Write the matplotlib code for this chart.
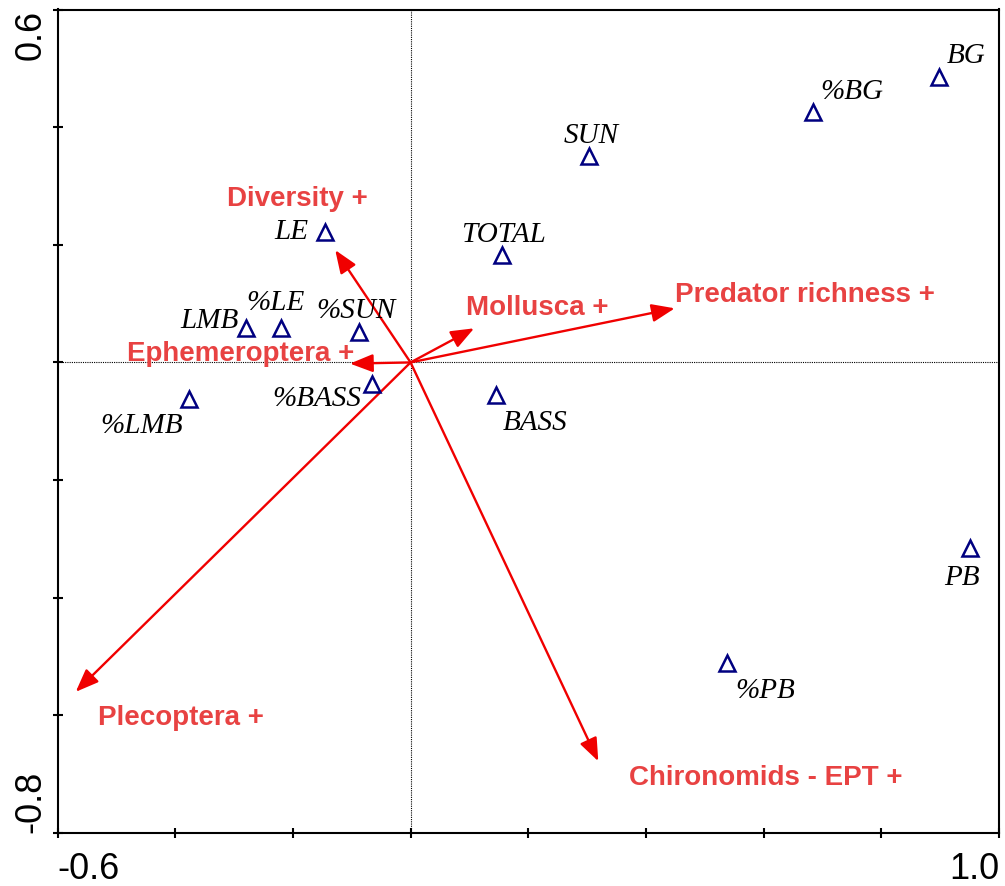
import matplotlib.pyplot as plt
import numpy as np

# species scores (blue triangles)
species = ['BG', '%BG', 'SUN', 'TOTAL', 'BASS', 'LE', 'LMB', '%LE',
           '%SUN', '%BASS', '%LMB', 'PB', '%PB']
species_x = [0.898, 0.684, 0.303, 0.155, 0.145, -0.145, -0.280, -0.220,
             -0.088, -0.066, -0.377, 0.951, 0.538]
species_y = [0.486, 0.426, 0.351, 0.183, -0.055, 0.222, 0.058, 0.058,
             0.052, -0.037, -0.062, -0.316, -0.511]

# environmental variables (red arrows)
variables = ['Diversity +', 'Ephemeroptera +', 'Mollusca +',
             'Predator richness +', 'Plecoptera +', 'Chironomids - EPT +']
var_x = [-0.128, -0.103, 0.108, 0.449, -0.569, 0.319]
var_y = [0.191, -0.002, 0.058, 0.092, -0.560, -0.678]

x_ticks = np.arange(-0.6, 1.01, 0.2)
x_ticklabels = ['-0.6', '', '', '', '', '', '', '', '1.0']
y_ticks = np.arange(-0.8, 0.61, 0.2)
y_ticklabels = ['-0.8', '', '', '', '', '', '', '0.6']

# label offsets in pixels (dx, dy) relative to the marker / arrow tip
species_offsets = [(27, 14), (39, 13), (2, 13), (1.5, 13), (39.5, -35),
                   (-33.5, -7), (-36, 0), (-5.5, 18), (-2.5, 14),
                   (-54.5, -22), (-47, -34), (-8, -37), (38, -35)]
var_offsets = [(-38, 44), (-109, 3), (63.5, 13), (130, 6), (105.5, -33),
               (167.5, -24)]

PX = 72 / 100  # pixels -> points

fig = plt.figure(figsize=(10.05, 8.86), dpi=100)
ax = fig.add_axes([57.5 / 1005, 53 / 886, (999 - 57.5) / 1005, (833 - 9.5) / 886])
ax.set_xlim(-0.6, 1.0)
ax.set_ylim(-0.8, 0.6)

ax.axhline(0, color='black', lw=0.8, ls=(0, (1, 1)), zorder=1)
ax.axvline(0, color='black', lw=0.8, ls=(0, (1, 1)), zorder=1)

# arrows
for name, x, y, (dx, dy) in zip(variables, var_x, var_y, var_offsets):
    ax.annotate('', xy=(x, y), xytext=(0, 0),
                arrowprops=dict(arrowstyle='-|>,head_length=1.4,head_width=0.55',
                                color='#f00000', lw=1.7, shrinkA=0, shrinkB=0,
                                mutation_scale=10), zorder=3)
    ax.annotate(name, xy=(x, y), xytext=(dx * PX, dy * PX),
                textcoords='offset points', ha='center', va='baseline',
                fontsize=20, fontweight='bold', family='Liberation Sans',
                color='#e84242', zorder=4)

# species
ax.plot(species_x, species_y, ls='none', marker='^', ms=12, mfc='none',
        mec='#000080', mew=1.8, zorder=5)
for name, x, y, (dx, dy) in zip(species, species_x, species_y, species_offsets):
    ax.annotate(name, xy=(x, y), xytext=(dx * PX, dy * PX),
                textcoords='offset points', ha='center', va='baseline',
                fontsize=21, fontstyle='italic', family='Liberation Serif',
                color='black', zorder=4)

for s in ax.spines.values():
    s.set_linewidth(1.5)

ax.set_xticks(x_ticks)
ax.set_xticklabels(x_ticklabels, family='Liberation Sans', fontsize=26)
ax.set_yticks(y_ticks)
ax.set_yticklabels(y_ticklabels, family='Liberation Sans', fontsize=26,
                   rotation=90)
ax.tick_params(direction='inout', length=7, width=1.5)
ax.tick_params(axis='x', pad=10)
ax.tick_params(axis='y', pad=3)

xl = ax.get_xticklabels()
xl[0].set_ha('left')
xl[-1].set_ha('right')
yl = ax.get_yticklabels()
yl[0].set_va('bottom')
yl[-1].set_va('top')

plt.savefig('out.png', dpi=100)
